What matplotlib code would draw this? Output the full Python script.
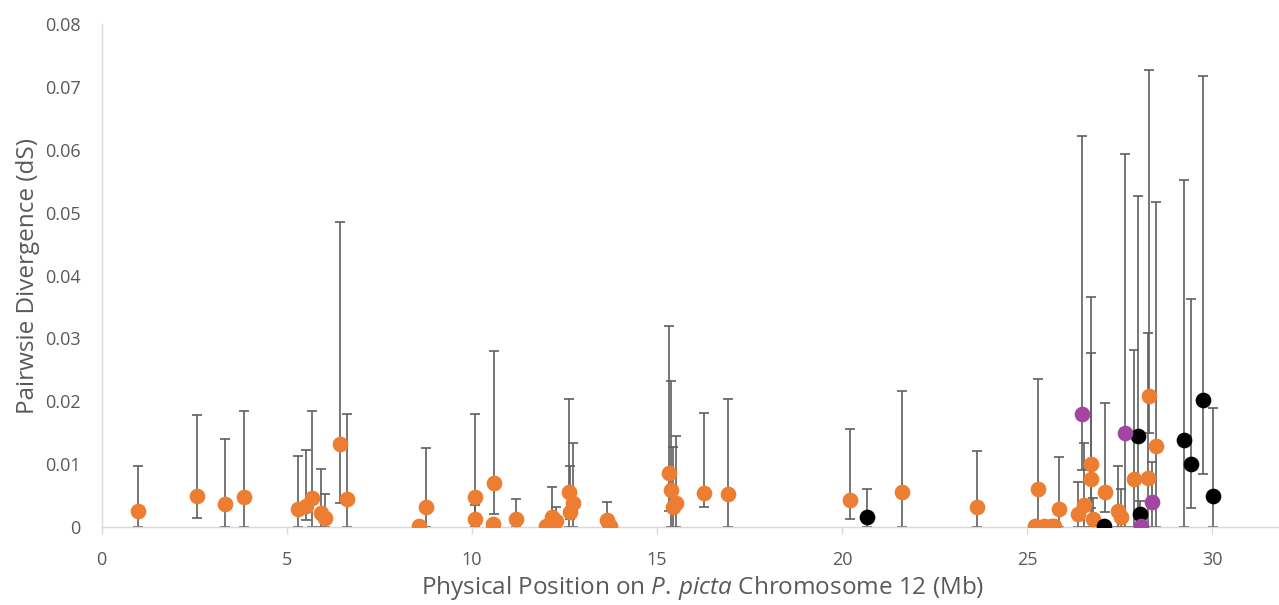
import numpy as np
import matplotlib
matplotlib.use("Agg")
from matplotlib import pyplot as plt

# position (Mb), dS, lower / upper end of the error bar
orange_x = [0.97, 2.57, 3.33, 3.85, 5.29, 5.52, 5.69, 5.92, 6.04, 6.44, 6.62,
            8.56, 8.77, 10.09, 10.09, 10.60, 10.58, 11.20, 12.00, 12.16, 12.27,
            12.61, 12.64, 12.72, 13.66, 13.72, 15.32, 15.37, 15.44, 15.51, 16.27,
            16.91, 20.22, 21.61, 23.65, 25.30, 25.22, 25.45, 25.63, 25.72, 25.85,
            26.37, 26.53, 26.73, 26.71, 26.77, 27.10, 27.46, 27.52, 27.88, 28.28,
            28.25, 28.47]
orange_y = [0.0025, 0.0049, 0.0036, 0.0047, 0.0028, 0.0034, 0.0046, 0.0023, 0.0015, 0.0132, 0.0045,
            0.0001, 0.0032, 0.0047, 0.0012, 0.0070, 0.0005, 0.0012, 0.0001, 0.0016, 0.0010,
            0.0055, 0.0024, 0.0038, 0.0011, 0.0001, 0.0086, 0.0059, 0.0032, 0.0038, 0.0054,
            0.0052, 0.0043, 0.0055, 0.0031, 0.0060, 0.0001, 0.0001, 0.0001, 0.0001, 0.0028,
            0.0020, 0.0035, 0.0100, 0.0076, 0.0012, 0.0056, 0.0026, 0.0016, 0.0077, 0.0208,
            0.0078, 0.0129]
orange_lo = [0, 0.0014, 0, 0, 0, 0.0011, 0, 0, 0, 0.0038, 0,
             0.0001, 0, 0, 0, 0.0020, 0, 0, 0, 0, 0,
             0, 0.0012, 0, 0, 0, 0.0026, 0, 0, 0, 0.0031,
             0, 0.0012, 0, 0, 0, 0.0001, 0.0001, 0.0001, 0.0001, 0,
             0, 0, 0.0030, 0, 0, 0.0024, 0, 0, 0, 0.0150,
             0, 0]
orange_hi = [0.0097, 0.0178, 0.0140, 0.0184, 0.0113, 0.0123, 0.0184, 0.0093, 0.0052, 0.0485, 0.0180,
             0.0001, 0.0125, 0.0180, 0.0035, 0.0280, 0.0005, 0.0045, 0.0001, 0.0064, 0.0032,
             0.0204, 0.0097, 0.0133, 0.0039, 0.0001, 0.0320, 0.0232, 0.0128, 0.0145, 0.0181,
             0.0204, 0.0156, 0.0216, 0.0121, 0.0236, 0.0001, 0.0001, 0.0001, 0.0001, 0.0112,
             0.0072, 0.0133, 0.0366, 0.0277, 0.0046, 0.0198, 0.0097, 0.0060, 0.0282, 0.0727,
             0.0308, 0.0517]

black_x = [20.68, 27.08, 27.98, 28.04, 29.23, 29.43, 29.75, 30.02]
black_y = [0.0016, 0.0001, 0.0144, 0.0020, 0.0139, 0.0100, 0.0202, 0.0049]
black_lo = [0, 0.0001, 0, 0, 0, 0.0030, 0.0085, 0]
black_hi = [0.0060, 0.0001, 0.0527, 0.0042, 0.0552, 0.0363, 0.0718, 0.0189]

purple_x = [26.48, 27.63, 28.06, 28.37]
purple_y = [0.0179, 0.0149, 0.0001, 0.0039]
purple_lo = [0.0090, 0, 0.0001, 0]
purple_hi = [0.0622, 0.0593, 0.0001, 0.0104]

series = [
    (orange_x, orange_y, orange_lo, orange_hi, "#ED7D31"),
    (black_x, black_y, black_lo, black_hi, "#000000"),
    (purple_x, purple_y, purple_lo, purple_hi, "#A346A3"),
]

plt.rcParams['font.family'] = ['Open Sans', 'DejaVu Sans']
plt.rcParams['mathtext.fontset'] = 'custom'
plt.rcParams['mathtext.rm'] = 'Open Sans'
plt.rcParams['mathtext.it'] = 'Open Sans:italic'
text_col = "#595959"
axis_col = "#D9D9D9"

fig = plt.figure(figsize=(12.79, 6.05), dpi=100)
ax = fig.add_axes([0.0795, 0.129, 0.9205, 0.831])

for xs, ys, lo, hi, col in series:
    xs, ys = np.array(xs), np.array(ys)
    err = np.vstack([ys - np.array(lo), np.array(hi) - ys])
    ax.errorbar(xs, ys, yerr=err, fmt="none", ecolor="#5F5F5F", elinewidth=1.2,
                capsize=3.5, capthick=1.2, zorder=1)

for xs, ys, lo, hi, col in series:
    ax.plot(xs, ys, "o", color=col, markersize=11.3, markeredgewidth=0, zorder=3)

ax.set_xlim(0, 31.8)
ax.set_ylim(0, 0.08)
ax.set_xticks([0, 5, 10, 15, 20, 25, 30])
ax.set_yticks(np.arange(0, 0.081, 0.01))
ax.set_yticklabels(["0"] + [f"{v:.2f}" for v in np.arange(0.01, 0.081, 0.01)])

for side in ["top", "right"]:
    ax.spines[side].set_visible(False)
for side in ["left", "bottom"]:
    ax.spines[side].set_color(axis_col)
    ax.spines[side].set_linewidth(1.0)

ax.tick_params(axis="x", colors=axis_col, length=5, width=1.0, direction="out",
               labelcolor=text_col, labelsize=13, pad=12)
ax.tick_params(axis="y", length=0, labelcolor=text_col, labelsize=13, pad=15)

ax.set_xlabel("Physical Position on $\\mathit{P.}\\,\\mathit{picta}$ Chromosome 12 (Mb)",
              fontsize=17.5, color=text_col)
ax.set_ylabel("Pairwsie Divergence (dS)", fontsize=17.5, color=text_col)
ax.xaxis.set_label_coords(0.51, -0.093)
ax.yaxis.set_label_coords(-0.052, 0.5)

fig.savefig("out.png", dpi=100)
